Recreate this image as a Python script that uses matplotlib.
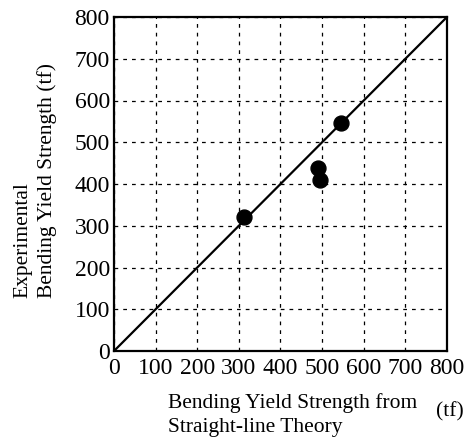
import numpy as np
import matplotlib
matplotlib.use("Agg")
import matplotlib.pyplot as plt

# Data (tf)
theory = [313, 546, 490, 494]
experimental = [321, 546, 439, 410]
ticks = [0, 100, 200, 300, 400, 500, 600, 700, 800]

plt.rcParams['font.family'] = ['Liberation Serif', 'DejaVu Serif']

W, H = 477, 438
fig = plt.figure(figsize=(W / 100, H / 100), dpi=100)
ax = fig.add_axes([114 / W, (H - 351) / H, (447 - 114) / W, (351 - 17) / H])

# 1:1 reference line
ax.plot([0, 800], [0, 800], color='black', linewidth=1.6, zorder=2)
ax.scatter(theory, experimental, s=115, color='black', zorder=3)

ax.set_xlim(0, 800)
ax.set_ylim(0, 800)
ax.set_xticks(ticks)
ax.set_yticks(ticks)
ax.tick_params(length=0, labelsize=17)
ax.tick_params(axis='x', pad=5)
ax.tick_params(axis='y', pad=3)
ax.grid(True, color='black', linestyle=(0, (3, 4)), linewidth=0.9)
for side in ax.spines.values():
    side.set_linewidth(1.6)

fig.text(450 / W, 1 - 412 / H, '(tf)', fontsize=15.5, ha='center', va='center')
fig.text(168 / W, 1 - 415 / H, 'Bending Yield Strength from\nStraight-line Theory',
         fontsize=15.5, ha='left', va='center', linespacing=1.35)
fig.text(35 / W, 1 - 180 / H, 'Experimental\nBending Yield Strength (tf)',
         fontsize=15.5, rotation=90, ha='center', va='center',
         multialignment='left', linespacing=1.35)

fig.savefig('out.png', dpi=100)
